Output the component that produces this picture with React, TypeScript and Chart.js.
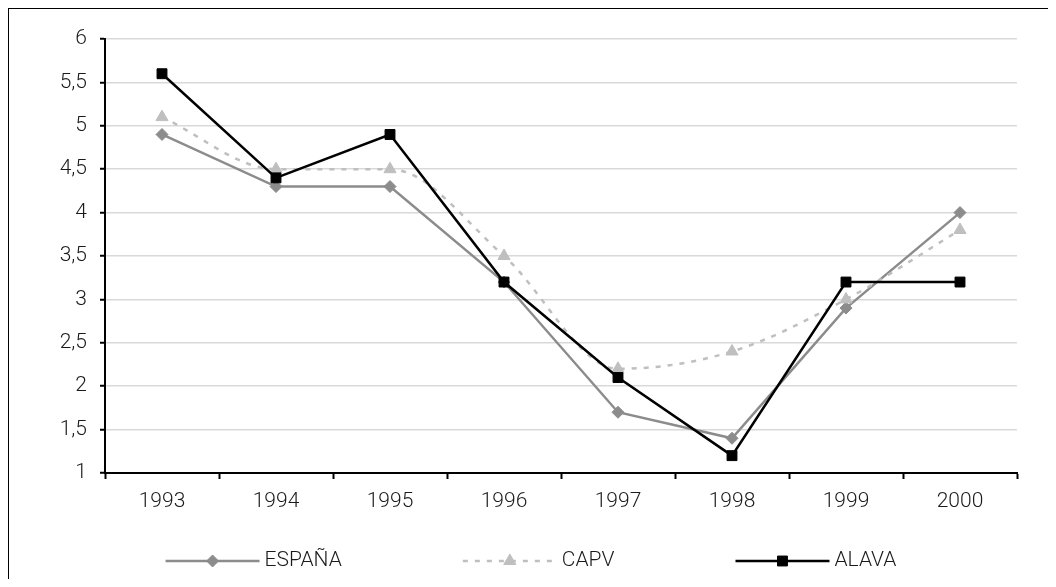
import React, { useEffect, useRef } from "react";
import { Chart, registerables } from "chart.js";

Chart.register(...registerables);

const years = ["1993", "1994", "1995", "1996", "1997", "1998", "1999", "2000"];
const espana = [4.9, 4.3, 4.3, 3.2, 1.7, 1.4, 2.9, 4.0];
const capv = [5.1, 4.5, 4.5, 3.5, 2.2, 2.4, 3.0, 3.8];
const alava = [5.6, 4.4, 4.9, 3.2, 2.1, 1.2, 3.2, 3.2];
const seriesNames = ["ESPAÑA", "CAPV", "ALAVA"];
const yMin = 1;
const yMax = 6;
const yStep = 0.5;

const FONT_FAMILY = "Roboto, 'Liberation Sans', sans-serif";
const FONT_SIZE = 21;
const TEXT_COLOR = "#1a1a1a";

function drawMarker(ctx: CanvasRenderingContext2D, style: string, x: number, y: number, r: number, fill: string) {
  ctx.save();
  ctx.fillStyle = fill;
  ctx.strokeStyle = fill;
  ctx.lineWidth = 1;
  ctx.setLineDash([]);
  ctx.beginPath();
  if (style === "rect") {
    const s = Math.SQRT1_2 * r;
    ctx.rect(x - s, y - s, 2 * s, 2 * s);
  } else if (style === "rectRot") {
    ctx.moveTo(x, y - r);
    ctx.lineTo(x + r, y);
    ctx.lineTo(x, y + r);
    ctx.lineTo(x - r, y);
    ctx.closePath();
  } else if (style === "triangle") {
    let rad = 0;
    ctx.moveTo(x + Math.sin(rad) * r, y - Math.cos(rad) * r);
    rad += (2 * Math.PI) / 3;
    ctx.lineTo(x + Math.sin(rad) * r, y - Math.cos(rad) * r);
    rad += (2 * Math.PI) / 3;
    ctx.lineTo(x + Math.sin(rad) * r, y - Math.cos(rad) * r);
    ctx.closePath();
  }
  ctx.fill();
  ctx.stroke();
  ctx.restore();
}

const legendPlugin = {
  id: "lineMarkerLegend",
  afterDraw(chart: any) {
    const ctx: CanvasRenderingContext2D = chart.ctx;
    ctx.save();
    ctx.font = `300 ${FONT_SIZE}px ${FONT_FAMILY}`;
    const lineLen = 94;
    const textGap = 5;
    const gap = 121;
    const centerX = 522;
    const y = 552;
    const items = chart.data.datasets.map((ds: any) => ({
      ds,
      w: lineLen + textGap + ctx.measureText(ds.label).width,
    }));
    const total = items.reduce((a: number, it: any) => a + it.w, 0) + gap * (items.length - 1);
    let x = centerX - total / 2;
    items.forEach(({ ds, w }: any) => {
      ctx.save();
      ctx.strokeStyle = ds.borderColor;
      ctx.lineWidth = ds.borderWidth;
      ctx.setLineDash(ds.borderDash || []);
      ctx.beginPath();
      ctx.moveTo(x, y);
      ctx.lineTo(x + lineLen, y);
      ctx.stroke();
      ctx.restore();
      drawMarker(ctx, ds.pointStyle, x + lineLen / 2, y, ds.pointRadius, ds.pointBackgroundColor);
      ctx.fillStyle = TEXT_COLOR;
      ctx.textAlign = "left";
      ctx.textBaseline = "middle";
      ctx.fillText(ds.label, x + lineLen + textGap, y);
      x += w + gap;
    });
    ctx.restore();
  },
};

export default function App() {
  const canvasRef = useRef<HTMLCanvasElement | null>(null);

  useEffect(() => {
    if (!canvasRef.current) return;
    const chart = new Chart(canvasRef.current, {
      type: "line",
      data: {
        labels: years,
        datasets: [
          {
            label: seriesNames[0],
            data: espana,
            borderColor: "#8c8c8c",
            backgroundColor: "#8c8c8c",
            borderWidth: 2.5,
            pointStyle: "rectRot",
            pointRadius: 6,
            pointBackgroundColor: "#8c8c8c",
            pointBorderColor: "#8c8c8c",
            pointBorderWidth: 1,
            tension: 0,
            order: 2,
          },
          {
            label: seriesNames[1],
            data: capv,
            borderColor: "#bfbfbf",
            backgroundColor: "#bfbfbf",
            borderWidth: 2.5,
            borderDash: [5, 7],
            pointStyle: "triangle",
            pointRadius: 7,
            pointBackgroundColor: "#bfbfbf",
            pointBorderColor: "#bfbfbf",
            pointBorderWidth: 1,
            cubicInterpolationMode: "monotone",
            tension: 0.4,
            order: 1,
          },
          {
            label: seriesNames[2],
            data: alava,
            borderColor: "#000000",
            backgroundColor: "#000000",
            borderWidth: 2.5,
            pointStyle: "rect",
            pointRadius: 7,
            pointBackgroundColor: "#000000",
            pointBorderColor: "#000000",
            pointBorderWidth: 1,
            tension: 0,
            order: 0,
          },
        ] as any,
      },
      options: {
        responsive: false,
        animation: false,
        devicePixelRatio: 1,
        layout: { padding: { top: 30, right: 31, left: 0, bottom: 0 } },
        plugins: {
          legend: { display: false },
          tooltip: { enabled: false },
          title: { display: false },
        },
        scales: {
          x: {
            type: "category",
            offset: true,
            grid: {
              display: true,
              drawOnChartArea: false,
              drawTicks: true,
              offset: true,
              tickLength: 6,
              tickColor: "#000",
              tickWidth: 2,
            },
            border: { display: true, color: "#000", width: 2 },
            ticks: {
              color: TEXT_COLOR,
              font: { family: FONT_FAMILY, size: FONT_SIZE, weight: "300" as any },
              padding: 10,
              maxRotation: 0,
            },
            afterFit(scale: any) {
              scale.height = 106;
            },
          },
          y: {
            min: yMin,
            max: yMax,
            grid: {
              color: "#d9d9d9",
              lineWidth: 1.5,
              drawTicks: true,
              tickLength: 5,
              tickColor: "#000",
              tickWidth: 2,
            },
            border: { display: true, color: "#000", width: 2 },
            ticks: {
              stepSize: yStep,
              color: TEXT_COLOR,
              font: { family: FONT_FAMILY, size: FONT_SIZE, weight: "300" as any },
              padding: 13,
              callback: (v: any) => String(v).replace(".", ","),
            },
            afterFit(scale: any) {
              scale.width = 96;
            },
          },
        },
      } as any,
      plugins: [legendPlugin],
    });
    return () => chart.destroy();
  }, []);

  return (
    <div
      style={{
        width: 1040,
        height: 571,
        borderTop: "1px solid #000",
        borderLeft: "1px solid #000",
        boxSizing: "border-box",
        background: "#fff",
      }}
    >
      <canvas ref={canvasRef} width={1039} height={570} style={{ display: "block" }} />
    </div>
  );
}
